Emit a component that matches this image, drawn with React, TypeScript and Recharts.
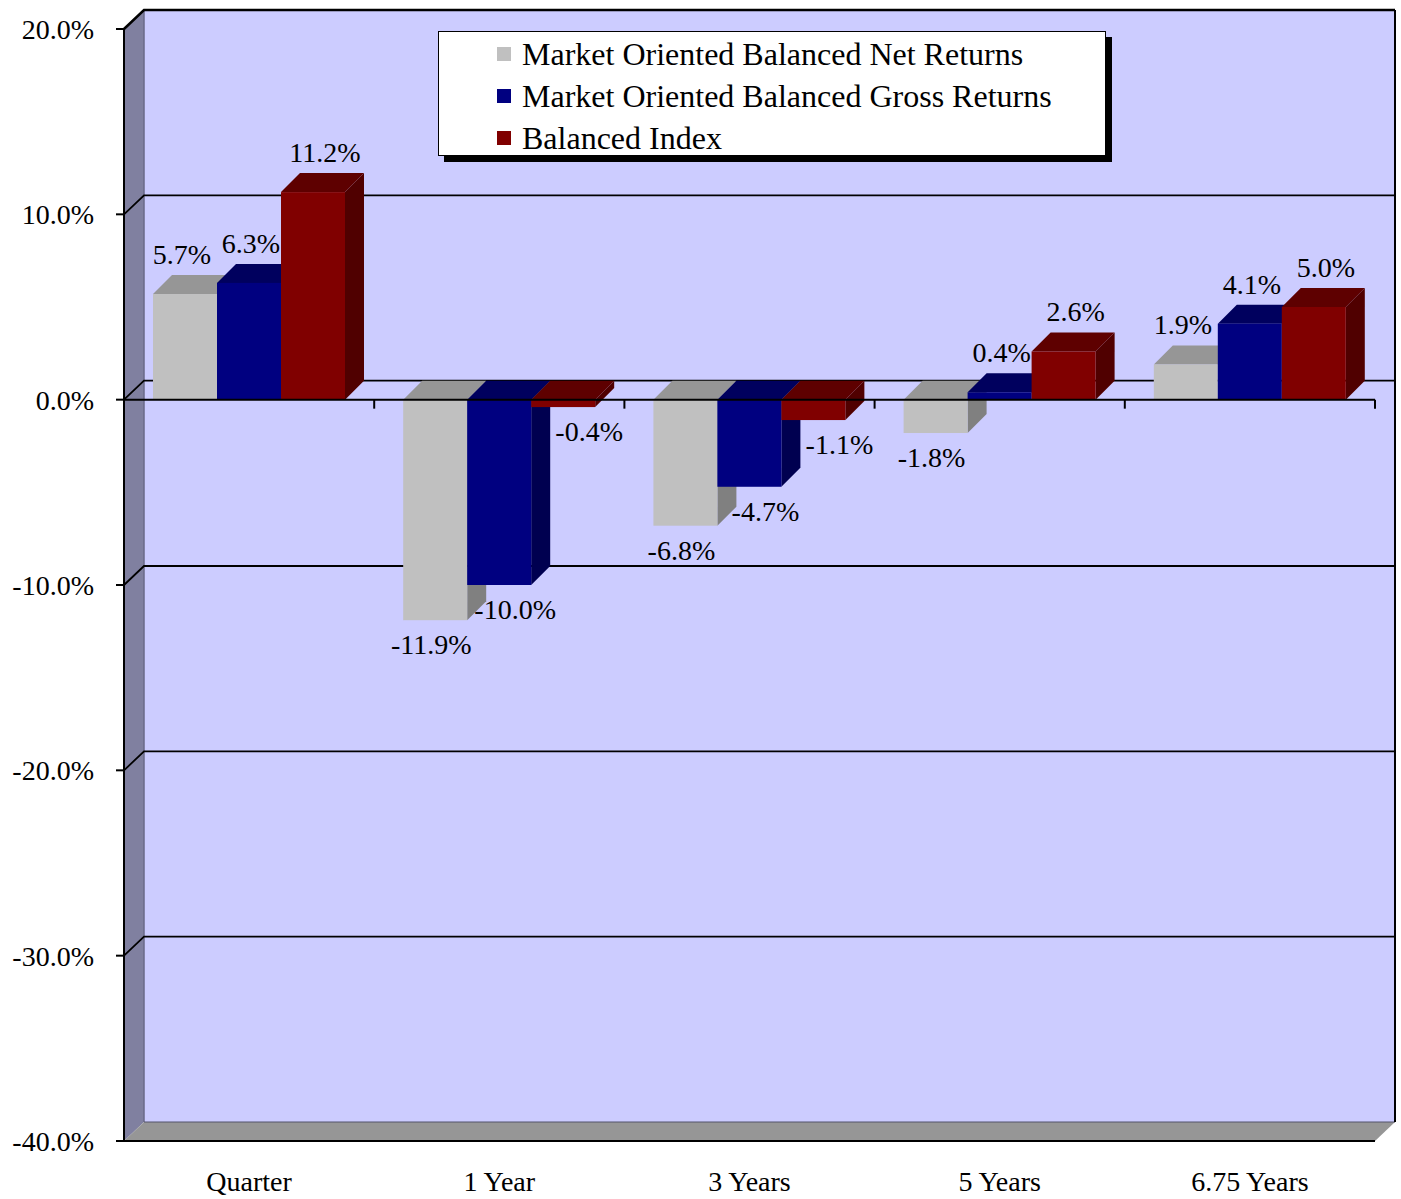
import { Bar, BarChart, CartesianGrid, LabelList, Legend, ReferenceLine, XAxis, YAxis } from "recharts"

const categories = ["Quarter", "1 Year", "3 Years", "5 Years", "6.75 Years"]
const netReturns = [5.7, -11.9, -6.8, -1.8, 1.9]
const grossReturns = [6.3, -10.0, -4.7, 0.4, 4.1]
const balancedIndex = [11.2, -0.4, -1.1, 2.6, 5.0]
const yTicks = [-40, -30, -20, -10, 0, 10, 20]
const seriesNames = [
  "Market Oriented Balanced Net Returns",
  "Market Oriented Balanced Gross Returns",
  "Balanced Index",
]

const data = categories.map((name, i) => ({
  name,
  net: netReturns[i],
  gross: grossReturns[i],
  index: balancedIndex[i],
}))

const FONT = '"Liberation Serif", "Times New Roman", serif'
// depth of the 3d walls and bars
const WX = 20
const WY = 19
const BD = 19

const colors = {
  net: { front: "#c0c0c0", top: "#969696", side: "#808080" },
  gross: { front: "#000080", top: "#00005e", side: "#000050" },
  index: { front: "#800000", top: "#5e0000", side: "#500000" },
}

const labelShift: Record<string, [number, number]> = {
  net: [-3, -4],
  gross: [2, 16],
  index: [12, 26],
}

const bar3d = (key: keyof typeof colors) => (props: any) => {
  const { x, y, width, height } = props
  const c = colors[key]
  const top = Math.min(y, y + height)
  const bottom = Math.max(y, y + height)
  const r = x + width
  return (
    <g>
      <polygon
        points={`${r},${top} ${r + BD},${top - BD} ${r + BD},${bottom - BD} ${r},${bottom}`}
        fill={c.side}
      />
      <polygon
        points={`${x},${top} ${x + BD},${top - BD} ${r + BD},${top - BD} ${r},${top}`}
        fill={c.top}
      />
      <rect x={x} y={top} width={width} height={bottom - top} fill={c.front} />
    </g>
  )
}

const barLabel = (key: string) => (props: any) => {
  const { x, y, width, height, value } = props
  const v = Number(value)
  const top = Math.min(y, y + height)
  const bottom = Math.max(y, y + height)
  const pos = v >= 0
  const cx = x + width / 2 + labelShift[key][pos ? 0 : 1]
  const ty = pos ? top - 30 : bottom + 34
  return (
    <text x={cx} y={ty} textAnchor="middle" fontSize={28} fontFamily={FONT} fill="#000">
      {`${v.toFixed(1)}%`}
    </text>
  )
}

const gridLine = (props: any) => {
  const { x1, y1, x2, index, x, y, width, height } = props
  const bottom = y + height
  let walls = null
  if (index === 0) {
    walls = (
      <g>
        <rect x={x + WX} y={y - WY} width={width} height={height} fill="#ccccff" />
        <polygon
          points={`${x},${y} ${x + WX},${y - WY} ${x + WX},${bottom - WY} ${x},${bottom}`}
          fill="#8080a0"
        />
        <line x1={x + WX} y1={y - WY} x2={x + WX} y2={bottom - WY} stroke="#6a6a88" strokeWidth={1.5} />
        <polygon
          points={`${x},${bottom} ${x + WX},${bottom - WY} ${x + width + WX},${bottom - WY} ${x + width},${bottom}`}
          fill="#969696"
        />
        <line x1={x + WX} y1={bottom - WY} x2={x + width + WX} y2={bottom - WY} stroke="#55556a" strokeWidth={1} />
        <line x1={x + width + WX} y1={y - WY} x2={x + width + WX} y2={bottom - WY} stroke="#000" strokeWidth={2} />
      </g>
    )
  }
  const line =
    Math.abs(y1 - bottom) < 1 ? null : (
      <path
        d={`M${x1},${y1} L${x1 + WX},${y1 - WY} L${x2 + WX},${y1 - WY}`}
        fill="none"
        stroke="#000"
        strokeWidth={y1 - y < 1 ? 2.5 : 1.8}
      />
    )
  return (
    <g key={`grid-${index}`}>
      {walls}
      {line}
    </g>
  )
}

const zeroLine = (props: any) => {
  const { x1, y1, x2 } = props
  const step = (x2 - x1) / categories.length
  return (
    <g>
      <line x1={x1} y1={y1} x2={x2} y2={y1} stroke="#000" strokeWidth={2} />
      {categories.map((_, i) => (
        <line
          key={i}
          x1={x1 + step * (i + 1)}
          y1={y1}
          x2={x1 + step * (i + 1)}
          y2={y1 + 9}
          stroke="#000"
          strokeWidth={2}
        />
      ))}
    </g>
  )
}

const renderLegend = (props: any) => {
  const items = [...(props.payload || [])].sort(
    (a: any, b: any) => seriesNames.indexOf(a.value) - seriesNames.indexOf(b.value),
  )
  return (
    <div
      style={{
        width: 666,
        height: 122,
        background: "#fff",
        border: "1.5px solid #000",
        boxShadow: "6px 6px 0 #000",
        boxSizing: "content-box",
        paddingTop: 1,
        fontFamily: FONT,
        fontSize: 32,
        color: "#000",
      }}
    >
      {items.map((item: any) => (
        <div key={item.value} style={{ display: "flex", alignItems: "center", height: 42, paddingLeft: 58 }}>
          <span style={{ width: 14, height: 14, background: item.color, marginRight: 11, display: "inline-block" }} />
          <span style={{ lineHeight: "42px", whiteSpace: "nowrap" }}>{item.value}</span>
        </div>
      ))}
    </div>
  )
}

export default function App() {
  return (
    <div style={{ position: "absolute", left: 0, top: 0, background: "#fff" }}>
      <BarChart
        width={1401}
        height={1199}
        data={data}
        margin={{ top: 29, right: 26, bottom: 0, left: 0 }}
        barCategoryGap={29}
        barGap={0}
      >
        <CartesianGrid vertical={false} horizontal={gridLine} />
        <XAxis
          dataKey="name"
          height={58}
          axisLine={{ stroke: "#000", strokeWidth: 2 }}
          tickLine={false}
          tickSize={6}
          tickMargin={24}
          tick={{ fontSize: 28, fontFamily: FONT, fill: "#000" }}
        />
        <YAxis
          width={124}
          domain={[-40, 20]}
          ticks={yTicks}
          interval={0}
          allowDataOverflow
          tickFormatter={(v: number) => `${v.toFixed(1)}%`}
          axisLine={{ stroke: "#000", strokeWidth: 2 }}
          tickLine={{ stroke: "#000", strokeWidth: 2 }}
          tickSize={8}
          tickMargin={22}
          tick={{ fontSize: 28, fontFamily: FONT, fill: "#000" }}
        />
        <Legend
          layout="vertical"
          align="center"
          verticalAlign="middle"
          content={renderLegend}
          wrapperStyle={{ left: 438, top: 31, width: 680, height: 130 }}
        />
        <Bar dataKey="net" name={seriesNames[0]} fill={colors.net.front} shape={bar3d("net")} isAnimationActive={false}>
          <LabelList dataKey="net" content={barLabel("net")} />
        </Bar>
        <Bar dataKey="gross" name={seriesNames[1]} fill={colors.gross.front} shape={bar3d("gross")} isAnimationActive={false}>
          <LabelList dataKey="gross" content={barLabel("gross")} />
        </Bar>
        <Bar dataKey="index" name={seriesNames[2]} fill={colors.index.front} shape={bar3d("index")} isAnimationActive={false}>
          <LabelList dataKey="index" content={barLabel("index")} />
        </Bar>
        <ReferenceLine y={0} shape={zeroLine} />
      </BarChart>
    </div>
  )
}
